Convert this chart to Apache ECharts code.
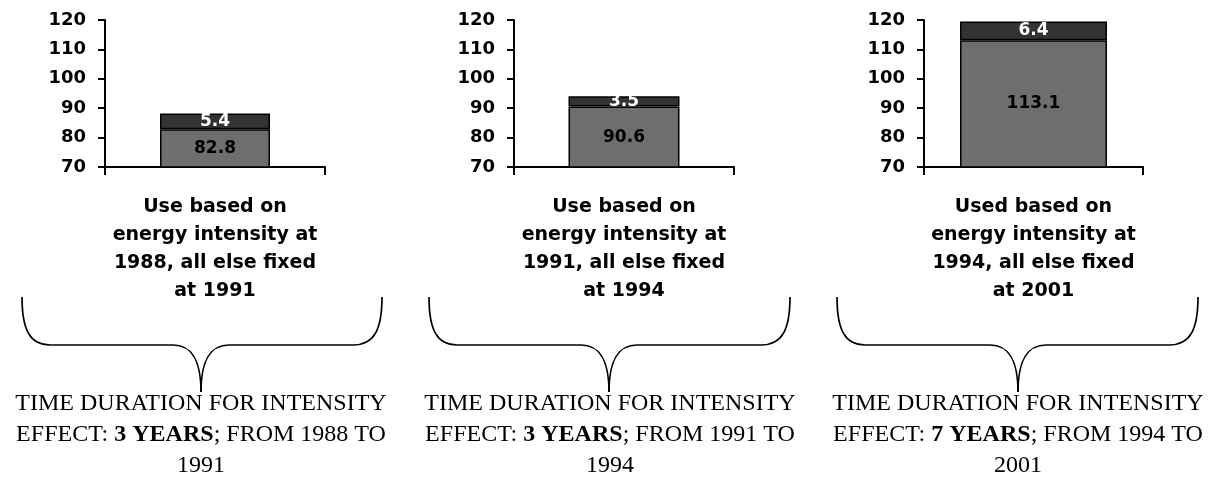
<!DOCTYPE html>
<html>
<head>
<meta charset="utf-8">
<script src="https://cdn.jsdelivr.net/npm/echarts@6/dist/echarts.min.js"></script>
<style>
  html, body { margin: 0; padding: 0; background: #fff; }
  #chart { width: 1211px; height: 479px; }
</style>
</head>
<body>
<div id="chart"></div>
<script>
// Decomposition panels: energy use with intensity held at an earlier year
const categories = [
  'Use based on\nenergy intensity at\n1988, all else fixed\nat 1991',
  'Use based on\nenergy intensity at\n1991, all else fixed\nat 1994',
  'Used based on\nenergy intensity at\n1994, all else fixed\nat 2001'
];
const baseValues = [82.8, 90.6, 113.1];
const intensityValues = [5.4, 3.5, 6.4];
const axisMin = 70;
const axisMax = 120;
const axisStep = 10;
const durations = ['3 YEARS', '3 YEARS', '7 YEARS'];
const fromYears = ['1988', '1991', '1994'];
const toYears = ['1991', '1994', '2001'];

// layout per panel (pixels)
const panels = [
  { left: 105, width: 220, barWidth: 110, brace: [22, 382, 201], textX: 201 },
  { left: 514, width: 220, barWidth: 111, brace: [429, 790, 609], textX: 610 },
  { left: 924, width: 219, barWidth: 147, brace: [837, 1198, 1018], textX: 1018 }
];
const gridTop = 20, gridHeight = 147;

const SANS = "'DejaVu Sans', sans-serif";
const SERIF = "'Liberation Serif', 'Times New Roman', serif";

const grids = [], xAxes = [], yAxes = [], series = [], graphics = [];

panels.forEach((p, i) => {
  grids.push({ left: p.left, top: gridTop, width: p.width, height: gridHeight });
  xAxes.push({
    type: 'category', gridIndex: i, data: [categories[i]],
    axisLine: { lineStyle: { color: '#000', width: 2 } },
    axisTick: { show: true, length: 8, lineStyle: { color: '#000', width: 2 } },
    axisLabel: {
      color: '#000', fontFamily: SANS, fontWeight: 'bold', fontSize: 19,
      lineHeight: 28, margin: 26, interval: 0
    }
  });
  yAxes.push({
    type: 'value', gridIndex: i, min: axisMin, max: axisMax, interval: axisStep,
    splitLine: { show: false },
    axisLine: { show: true, lineStyle: { color: '#000', width: 2 } },
    axisTick: { show: true, length: 7, lineStyle: { color: '#000', width: 2 } },
    axisLabel: { color: '#000', fontFamily: SANS, fontWeight: 'bold', fontSize: 18, margin: 19 }
  });
  series.push({
    type: 'bar', xAxisIndex: i, yAxisIndex: i, stack: 'p' + i,
    barWidth: p.barWidth, data: [baseValues[i]],
    itemStyle: { color: '#6e6e6e', borderColor: '#000', borderWidth: 1.5 },
    label: { show: true, position: 'inside', color: '#000', fontFamily: SANS, fontWeight: 'bold', fontSize: 17 },
    emphasis: { disabled: true }
  });
  series.push({
    type: 'bar', xAxisIndex: i, yAxisIndex: i, stack: 'p' + i,
    barWidth: p.barWidth, data: [intensityValues[i]],
    itemStyle: { color: '#333333', borderColor: '#000', borderWidth: 1.5 },
    label: { show: true, position: 'inside', color: '#fff', fontFamily: SANS, fontWeight: 'bold', fontSize: 17 },
    emphasis: { disabled: true }
  });

  // curly brace under each panel
  const [x0, x1, xc] = p.brace;
  const yTop = 297, yMid = 345, yTip = 392;
  const stroke = { stroke: '#000', lineWidth: 1.7, fill: null };
  graphics.push(
    { type: 'bezierCurve', shape: { x1: x0, y1: yTop, cpx1: x0, cpy1: yMid - 15, cpx2: x0 + 8, cpy2: yMid, x2: x0 + 28, y2: yMid }, style: stroke },
    { type: 'line', shape: { x1: x0 + 28, y1: yMid, x2: xc - 28, y2: yMid }, style: stroke },
    { type: 'bezierCurve', shape: { x1: xc - 28, y1: yMid, cpx1: xc - 9, cpy1: yMid, cpx2: xc, cpy2: yMid + 15, x2: xc, y2: yTip }, style: stroke },
    { type: 'bezierCurve', shape: { x1: xc, y1: yTip, cpx1: xc, cpy1: yMid + 15, cpx2: xc + 9, cpy2: yMid, x2: xc + 28, y2: yMid }, style: stroke },
    { type: 'line', shape: { x1: xc + 28, y1: yMid, x2: x1 - 29, y2: yMid }, style: stroke },
    { type: 'bezierCurve', shape: { x1: x1 - 29, y1: yMid, cpx1: x1 - 8, cpy1: yMid, cpx2: x1, cpy2: yMid - 15, x2: x1, y2: yTop }, style: stroke }
  );

  // note below the brace
  graphics.push({
    type: 'text',
    x: p.textX, y: 388,
    style: {
      text: 'TIME DURATION FOR INTENSITY\nEFFECT: {b|' + durations[i] + '}; FROM ' + fromYears[i] + ' TO\n' + toYears[i],
      fontFamily: SERIF, fontSize: 24, lineHeight: 31, fill: '#000',
      align: 'center', textAlign: 'center', verticalAlign: 'top', textVerticalAlign: 'top',
      rich: {
        b: { fontFamily: SERIF, fontSize: 24, fontWeight: 'bold', lineHeight: 31, fill: '#000' }
      }
    }
  });
});

const chart = echarts.init(document.getElementById('chart'), null, { renderer: 'canvas' });
chart.setOption({
  animation: false,
  backgroundColor: '#fff',
  grid: grids,
  xAxis: xAxes,
  yAxis: yAxes,
  series: series,
  graphic: graphics
});
</script>
</body>
</html>
